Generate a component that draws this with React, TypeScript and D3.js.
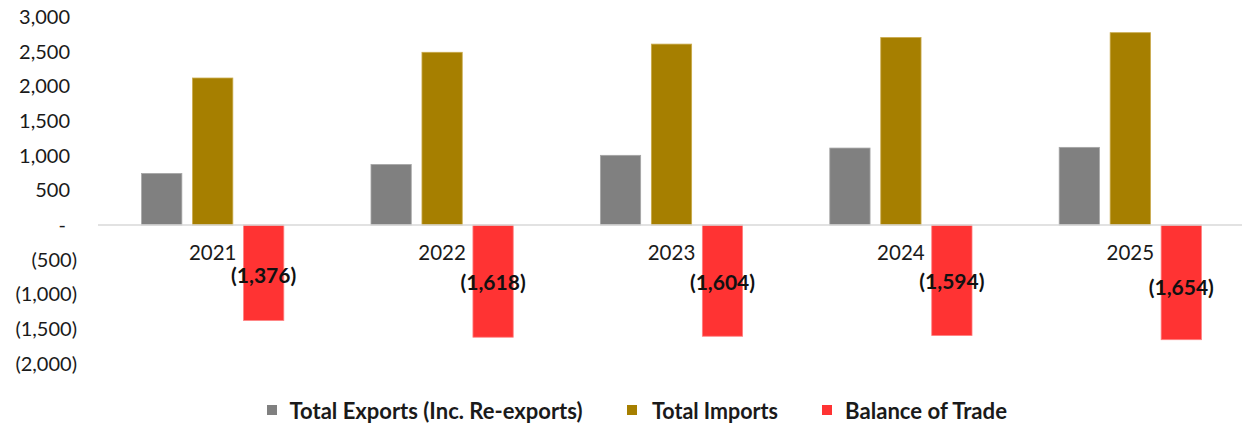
import React from "react";
import * as d3 from "d3";

const years = ["2021", "2022", "2023", "2024", "2025"];
const seriesNames = ["Total Exports (Inc. Re-exports)", "Total Imports", "Balance of Trade"];
const exportsVals = [744, 873, 1005, 1110, 1120];
const importsVals = [2120, 2491, 2609, 2704, 2774];
const balanceVals = [-1376, -1618, -1604, -1594, -1654];
const yTicks = [3000, 2500, 2000, 1500, 1000, 500, 0, -500, -1000, -1500, -2000];
const colors = ["#808080", "#A67F00", "#FF3333"];
const strokes = ["#a6a6a6", "#c9a94a", "#ff8080"];
const labelDy = [-45, -55, -54, -54, -52];

const W = 1242;
const H = 428;
const FONT = "Lato, 'Open Sans', sans-serif";

function fmt(v: number): string {
  if (v === 0) return "-";
  const s = d3.format(",")(Math.abs(v));
  return v < 0 ? `(${s})` : s;
}

export default function App() {
  const x0 = d3.scaleBand<string>().domain(years).range([98, 1245]).paddingInner(0).paddingOuter(0);
  const bw = x0.bandwidth();
  const x1 = d3
    .scaleBand<string>()
    .domain(seriesNames)
    .range([bw * 0.19, bw * 0.81])
    .paddingInner(0.21)
    .paddingOuter(0);
  const y = d3.scaleLinear().domain([-2000, 3000]).range([363.7, 17]);
  const seriesVals = [exportsVals, importsVals, balanceVals];

  const legendItems = [
    { name: seriesNames[0], sx: 267, tx: 289.5, tw: 293 },
    { name: seriesNames[1], sx: 627, tx: 652, tw: 126 },
    { name: seriesNames[2], sx: 822, tx: 845, tw: 162 },
  ];

  return (
    <svg
      width={W}
      height={H}
      style={{ position: "absolute", left: 0, top: 0, background: "#fff" }}
      fontFamily={FONT}
    >
      {yTicks.map((t) => (
        <text
          key={t}
          x={t < 0 ? 77 : t === 0 ? 66 : 70}
          y={y(t)}
          dy="0.35em"
          textAnchor="end"
          fontSize={20}
          fill="#1a1a1a"
        >
          {fmt(t)}
        </text>
      ))}
      {years.map((yr, i) => (
        <g key={yr} transform={`translate(${x0(yr)},0)`}>
          {seriesVals.map((vals, s) => {
            const v = vals[i];
            const top = v >= 0 ? y(v) : y(0);
            const h = Math.abs(y(v) - y(0));
            return (
              <rect
                key={s}
                x={x1(seriesNames[s])!}
                y={top}
                width={x1.bandwidth()}
                height={h}
                fill={colors[s]}
                stroke={strokes[s]}
                strokeWidth={0.8}
              />
            );
          })}
        </g>
      ))}
      <line x1={98} x2={1245} y1={y(0)} y2={y(0)} stroke="#d9d9d9" strokeWidth={1.5} />
      {years.map((yr) => (
        <text
          key={yr}
          x={x0(yr)! + bw / 2}
          y={y(0) + 28}
          dy="0.35em"
          textAnchor="middle"
          fontSize={20.5}
          fill="#1a1a1a"
        >
          {yr}
        </text>
      ))}
      {years.map((yr, i) => (
        <text
          key={yr}
          x={x0(yr)! + x1(seriesNames[2])! + x1.bandwidth() / 2}
          y={y(balanceVals[i]) + labelDy[i]}
          dy="0.35em"
          textAnchor="middle"
          fontSize={21}
          fontWeight="bold"
          fill="#111"
        >
          {fmt(balanceVals[i])}
        </text>
      ))}
      {legendItems.map((it, s) => (
        <g key={it.name}>
          <rect x={it.sx} y={405} width={10} height={10} fill={colors[s]} />
          <text
            x={it.tx}
            y={419}
            fontSize={23}
            fontWeight="bold"
            fill="#1a1a1a"
            textLength={it.tw}
            lengthAdjust="spacingAndGlyphs"
          >
            {it.name}
          </text>
        </g>
      ))}
    </svg>
  );
}
